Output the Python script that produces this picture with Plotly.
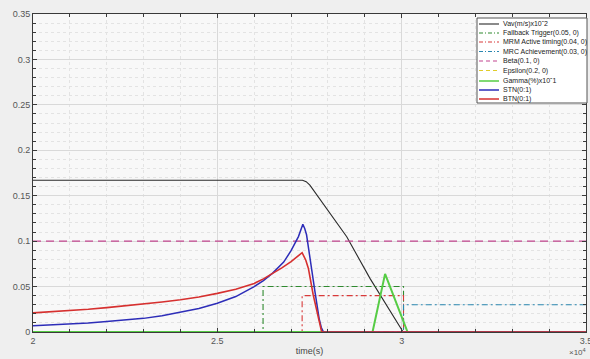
import plotly.graph_objects as go

# ---- data (time in seconds, values dimensionless) ----
vav_t = [20000, 27310, 27410, 27510, 28510, 29140, 30040, 35000]
vav_v = [0.167, 0.167, 0.1655, 0.1617, 0.1048, 0.059, 0.0, 0.0]

fallback_t = [20000, 26240, 26240, 30050, 30050, 35000]
fallback_v = [0.0, 0.0, 0.05, 0.05, 0.0, 0.0]

mrm_t = [20000, 27300, 27300, 30050, 30050, 35000]
mrm_v = [0.0, 0.0, 0.04, 0.04, 0.0, 0.0]

mrc_t = [20000, 30050, 30050, 35000]
mrc_v = [0.0, 0.0, 0.03, 0.03]

beta_t = [20000, 35000]
beta_v = [0.1, 0.1]

epsilon_t = [20000, 35000]
epsilon_v = [0.0, 0.0]

gamma_t = [20000, 29210, 29550, 30160, 35000]
gamma_v = [0.0, 0.0, 0.064, 0.0, 0.0]

stn_t = [20000, 20500, 21000, 21500, 22000, 22500, 23000, 23500, 24000, 24500,
         25000, 25500, 26000, 26250, 26500, 26800, 27000, 27200, 27320, 27370,
         27420, 27510, 27580, 27650, 27760, 27820, 27880, 35000]
stn_v = [0.007, 0.0078, 0.0088, 0.0100, 0.0115, 0.0130, 0.0150, 0.0178, 0.0215, 0.0258,
         0.0316, 0.039, 0.050, 0.0565, 0.0648, 0.077, 0.0895, 0.105, 0.1185, 0.114,
         0.107, 0.081, 0.062, 0.044, 0.015, 0.005, 0.0, 0.0]

btn_t = [20000, 20500, 21000, 21500, 22000, 22500, 23000, 23500, 24000, 24500,
         25000, 25500, 26000, 26250, 26500, 26750, 27000, 27150, 27300, 27400,
         27470, 27600, 27740, 27800, 27830, 35000]
btn_v = [0.021, 0.0222, 0.0235, 0.025, 0.0268, 0.0287, 0.0308, 0.033, 0.0355, 0.0385,
         0.0425, 0.047, 0.0535, 0.0585, 0.0645, 0.0705, 0.0775, 0.082, 0.0873, 0.079,
         0.070, 0.041, 0.015, 0.004, 0.0, 0.0]

series_names = [
    "Vav(m/s)x10\u02c62",
    "Fallback Trigger(0.05, 0)",
    "MRM Active timing(0.04, 0)",
    "MRC Achievement(0.03, 0)",
    "Beta(0.1, 0)",
    "Epsilon(0.2, 0)",
    "Gamma(%)x10\u02c61",
    "STN(0:1)",
    "BTN(0:1)",
]
series_t = [vav_t, fallback_t, mrm_t, mrc_t, beta_t, epsilon_t, gamma_t, stn_t, btn_t]
series_v = [vav_v, fallback_v, mrm_v, mrc_v, beta_v, epsilon_v, gamma_v, stn_v, btn_v]

x_tick_vals = [20000, 25000, 30000, 35000]
x_tick_text = ["2", "2.5", "3", "3.5"]
y_tick_vals = [0, 0.05, 0.1, 0.15, 0.2, 0.25, 0.3, 0.35]
y_tick_text = ["0", "0.05", "0.1", "0.15", "0.2", "0.25", "0.3", "0.35"]

# ---- styles ----
styles = [
    dict(color="#2b2b2b", width=1.1, dash="solid"),
    dict(color="#2f8a2f", width=1.1, dash="6px,3px,2px,3px"),
    dict(color="#d83a3a", width=1.1, dash="6px,3px,2px,3px"),
    dict(color="#2a86b0", width=1.1, dash="6px,3px,2px,3px"),
    dict(color="#c2458f", width=1.1, dash="8px,5px"),
    dict(color="#e0cc2a", width=1.1, dash="8px,5px"),
    dict(color="#56cc45", width=2.0, dash="solid"),
    dict(color="#2d2db8", width=1.5, dash="solid"),
    dict(color="#d6302f", width=1.6, dash="solid"),
]
legend_dash = {"solid": "solid", "6px,3px,2px,3px": "4px,2px,1px,2px", "8px,5px": "4px,3px"}

FONT = "Liberation Sans, Arial, sans-serif"

W, H = 590, 359
L, R, T, B = 33, 4, 14, 27
plot_w = W - L - R
plot_h = H - T - B


def px_to_paper(px, py):
    return (px - L) / plot_w, (H - B - py) / plot_h


fig = go.Figure()
for t, v, name, st in zip(series_t, series_v, series_names, styles):
    fig.add_trace(go.Scatter(
        x=t, y=v, mode="lines", name=name, showlegend=False,
        line=dict(color=st["color"], width=st["width"], dash=st["dash"]),
        hoverinfo="skip",
    ))

axis_common = dict(
    showline=True, linecolor="#3a3a3a", linewidth=1, mirror="allticks",
    ticks="inside", ticklen=4, tickcolor="#3a3a3a",
    showgrid=True, gridcolor="#d9d9d9", gridwidth=1,
    zeroline=False, ticklabeloverflow="allow",
    tickfont=dict(family=FONT, size=9, color="#555555"),
)

fig.update_xaxes(
    range=[20000, 35000], tickmode="array", tickvals=x_tick_vals, ticktext=x_tick_text,
    minor=dict(dtick=1000, tick0=20000, ticks="inside", ticklen=3, tickcolor="#3a3a3a",
               showgrid=True, gridcolor="#e3e3e3", griddash="dot", gridwidth=1),
    title=dict(text="time(s)", standoff=2,
               font=dict(family=FONT, size=9, color="#444444")),
    **axis_common,
)
fig.update_yaxes(
    range=[0, 0.35], tickmode="array", tickvals=y_tick_vals, ticktext=y_tick_text,
    minor=dict(dtick=0.01, tick0=0, ticks="inside", ticklen=3, tickcolor="#3a3a3a",
               showgrid=True, gridcolor="#e3e3e3", griddash="dot", gridwidth=1),
    **axis_common,
)

# ---- legend box drawn in paper coordinates ----
shapes = []
annotations = []
bx0, by0 = px_to_paper(477, 18)
bx1, by1 = px_to_paper(587, 103)
shapes.append(dict(type="rect", xref="paper", yref="paper", x0=bx0, x1=bx1, y0=by1, y1=by0,
                   fillcolor="#ffffff", line=dict(color="#555555", width=1), layer="above"))
row_py = [24, 33, 42, 51.5, 61, 70.5, 81, 90, 99]
for name, st, py in zip(series_names, styles, row_py):
    lx0, ly = px_to_paper(479, py)
    lx1, _ = px_to_paper(499, py)
    shapes.append(dict(type="line", xref="paper", yref="paper", x0=lx0, x1=lx1, y0=ly, y1=ly,
                       line=dict(color=st["color"], width=min(st["width"], 1.5),
                                 dash=legend_dash[st["dash"]]),
                       layer="above"))
    tx, _ = px_to_paper(501, py)
    annotations.append(dict(xref="paper", yref="paper", x=tx, y=ly, text=name,
                            showarrow=False, xanchor="left", yanchor="middle",
                            font=dict(family=FONT, size=7, color="#222222")))

# exponent label of the time axis
ex, ey = px_to_paper(588, 352)
annotations.append(dict(xref="paper", yref="paper", x=ex, y=ey, text="\u00d710<sup>4</sup>",
                        showarrow=False, xanchor="right", yanchor="middle",
                        font=dict(family=FONT, size=8, color="#555555")))

fig.update_layout(
    width=W, height=H,
    margin=dict(l=L, r=R, t=T, b=B, autoexpand=False),
    paper_bgcolor="#efefef", plot_bgcolor="#f8f8f8",
    showlegend=False,
    shapes=shapes, annotations=annotations,
)

fig.write_html("out.html")
